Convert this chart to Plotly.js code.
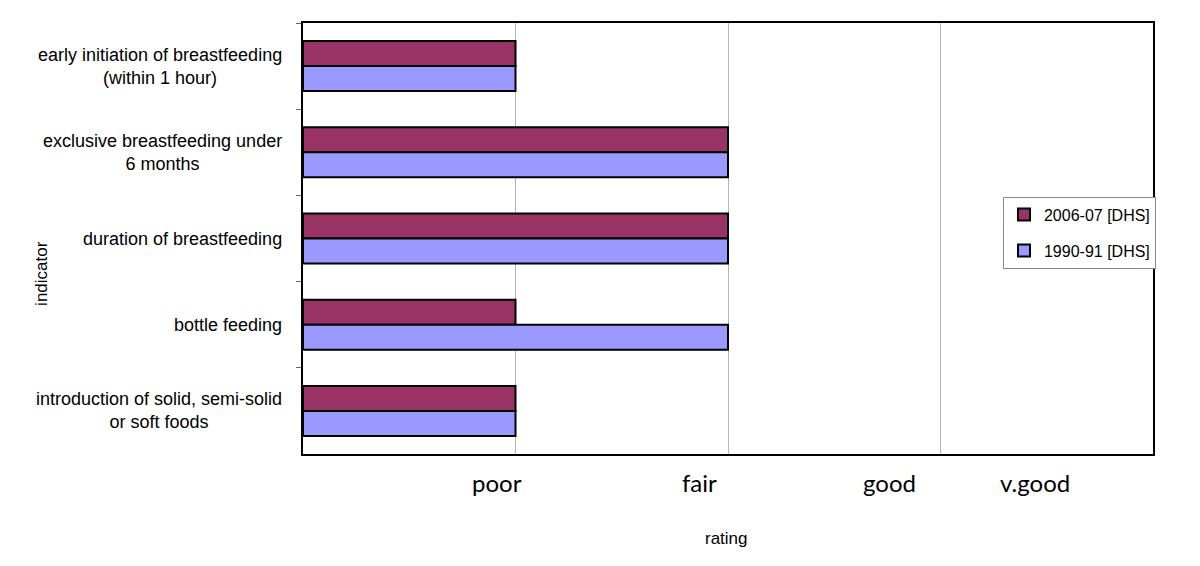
<!DOCTYPE html>
<html>
<head>
<meta charset="utf-8">
<script src="https://cdn.plot.ly/plotly-3.0.1.min.js"></script>
<style>
  body { margin: 0; background: #fff; }
  #chart { width: 1200px; height: 566px; }
</style>
</head>
<body>
<div id="chart"></div>
<script>
// indicators, listed top to bottom
var indicators = [
  'early initiation of breastfeeding<br>(within 1 hour)',
  'exclusive breastfeeding under<br>6 months',
  'duration of breastfeeding',
  'bottle feeding',
  'introduction of solid, semi-solid<br>or soft foods'
]
var rating2006 = [1, 2, 2, 1, 1]
var rating1990 = [1, 2, 2, 2, 1]

// rating words and where they sit on the 0-4 scale
var ratingLabels = ['poor', 'fair', 'good', 'v.good']
var ratingLabelPos = [0.913, 1.868, 2.762, 3.445]

var data = [
  {
    type: 'bar',
    orientation: 'h',
    name: '2006-07 [DHS]',
    y: indicators,
    x: rating2006,
    legendgroup: 'a',
    marker: { color: '#993366', line: { color: '#000', width: 2 } },
    hoverinfo: 'x+name'
  },
  {
    type: 'bar',
    orientation: 'h',
    name: '1990-91 [DHS]',
    y: indicators,
    x: rating1990,
    legendgroup: 'b',
    marker: { color: '#9999ff', line: { color: '#000', width: 2 } },
    hoverinfo: 'x+name'
  }
]

var annotations = []
indicators.forEach(function (lab) {
  annotations.push({
    xref: 'paper', yref: 'y', x: -0.022, y: lab,
    xanchor: 'right', yanchor: 'middle', align: 'center',
    text: lab, showarrow: false,
    font: { family: 'Liberation Sans, Arial', size: 18, color: '#000' }
  })
})
ratingLabels.forEach(function (lab, i) {
  annotations.push({
    xref: 'x', yref: 'paper', x: ratingLabelPos[i], y: -0.066,
    xanchor: 'center', yanchor: 'middle',
    text: lab, showarrow: false,
    font: { family: 'Lato, Open Sans', size: 24, color: '#000' }
  })
})
annotations.push({
  xref: 'paper', yref: 'paper', x: -0.307, y: 0.418,
  xanchor: 'center', yanchor: 'middle', textangle: -90,
  text: 'indicator', showarrow: false,
  font: { family: 'Liberation Sans, Arial', size: 17, color: '#000' }
})
annotations.push({
  xref: 'paper', yref: 'paper', x: 0.498, y: -0.195,
  xanchor: 'center', yanchor: 'middle',
  text: 'rating', showarrow: false,
  font: { family: 'Liberation Sans, Arial', size: 17, color: '#000' }
})

var layout = {
  width: 1200,
  height: 566,
  margin: { l: 303, r: 47, t: 23, b: 112 },
  paper_bgcolor: '#fff',
  plot_bgcolor: '#fff',
  barmode: 'group',
  bargap: 0.42,
  bargroupgap: 0,
  showlegend: true,
  legend: {
    x: 0.8235, y: 0.597, xanchor: 'left', yanchor: 'top',
    bordercolor: '#888', borderwidth: 1, bgcolor: '#fff',
    traceorder: 'grouped', tracegroupgap: 12,
    font: { family: 'Liberation Sans, Arial', size: 16, color: '#000' }
  },
  xaxis: {
    range: [0, 4],
    tickvals: [1, 2, 3],
    showticklabels: false,
    ticks: '',
    showgrid: true,
    gridcolor: '#b5b5b5',
    gridwidth: 1,
    zeroline: false,
    showline: true,
    linecolor: '#000',
    linewidth: 2,
    mirror: true,
    fixedrange: true
  },
  yaxis: {
    type: 'category',
    autorange: 'reversed',
    showticklabels: false,
    ticks: 'outside',
    tickson: 'boundaries',
    ticklen: 5,
    tickcolor: '#666',
    showgrid: false,
    zeroline: false,
    showline: true,
    linecolor: '#000',
    linewidth: 2,
    mirror: true,
    fixedrange: true
  },
  annotations: annotations
}

Plotly.newPlot('chart', data, layout, { displayModeBar: false })
</script>
</body>
</html>
